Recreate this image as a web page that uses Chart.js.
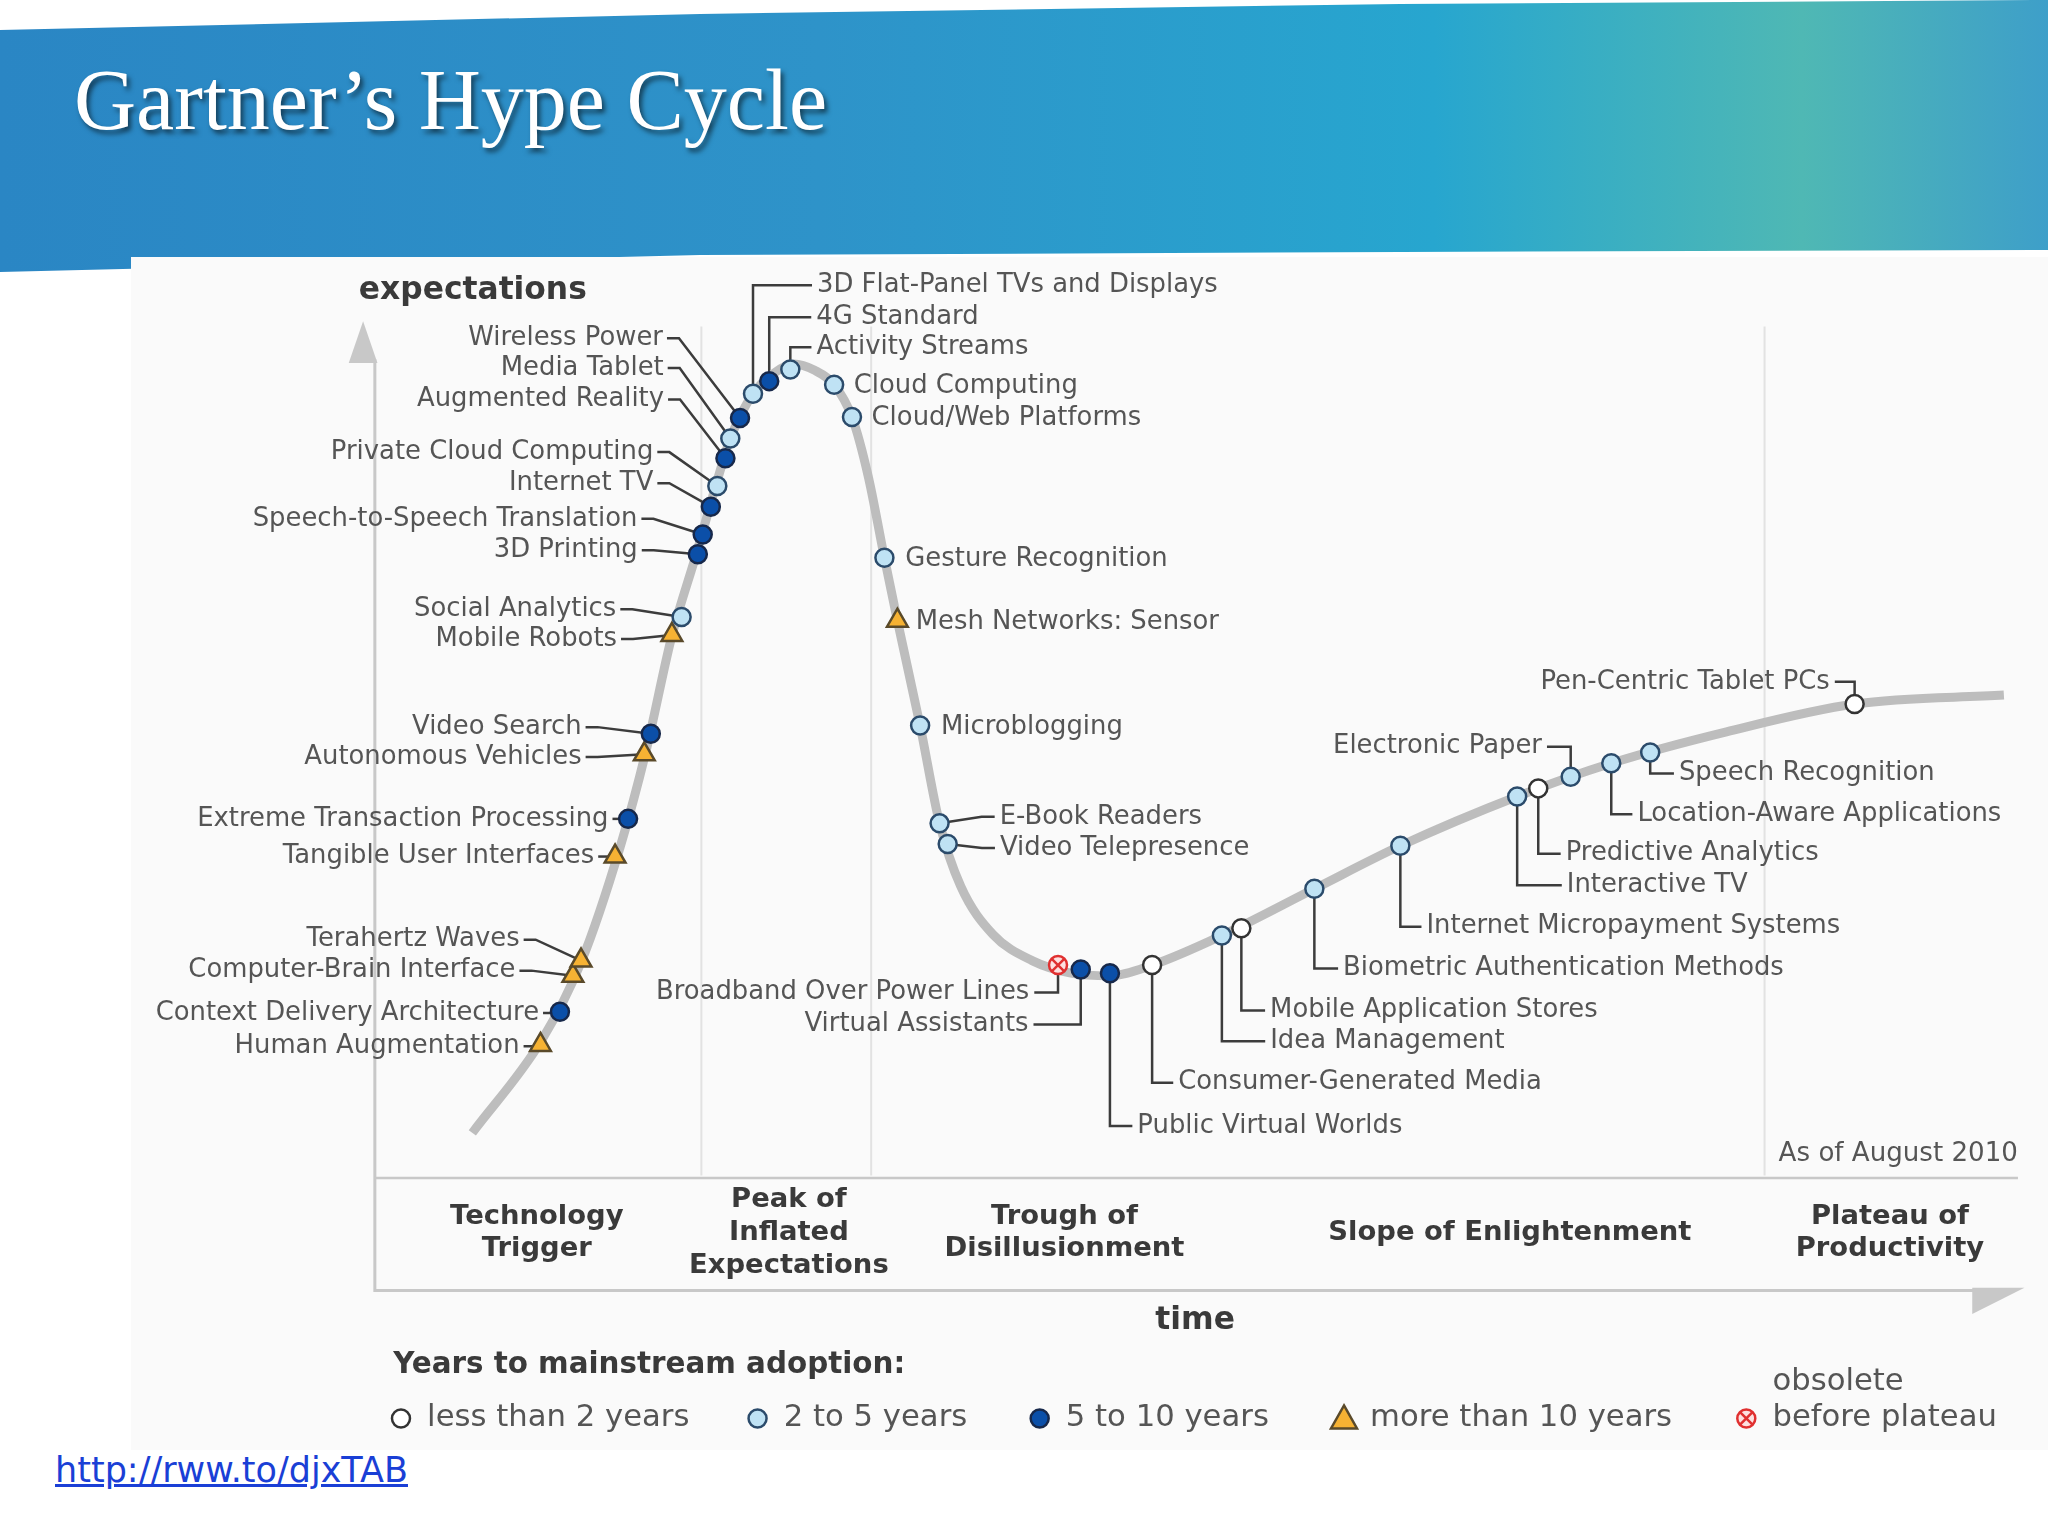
<!DOCTYPE html>
<html><head><meta charset="utf-8">
<script src="https://cdn.jsdelivr.net/npm/chart.js@4.4.1/dist/chart.umd.min.js"></script>
<style>
  html,body{margin:0;padding:0;background:#fff;width:2048px;height:1536px;overflow:hidden}
  .band{position:absolute;left:0;top:0;width:2048px;height:272px;
    background:linear-gradient(90deg,#2a86c4 0%,#2e93c9 40%,#27a6cf 70%,#4fb8b4 88%,#3e9fc9 100%);
    clip-path:polygon(0 30px,700px 14px,1400px 4px,2048px 0,2048px 250px,1400px 252px,700px 255px,0 272px)}
  .title{position:absolute;left:74px;top:50px;font-family:"Liberation Serif",serif;font-size:86px;color:#fff;
    text-shadow:3px 4px 5px rgba(0,0,0,.55)}
  .panel{position:absolute;left:131px;top:257px;width:1917px;height:1193px;background:#fafafa}
  .link{position:absolute;left:55px;top:1450px;font-family:"DejaVu Sans",sans-serif;font-size:35px;color:#1a3fd6;text-decoration:underline}
  canvas{position:absolute;left:0;top:0}
</style></head>
<body>
<div class="band"></div>
<div class="title">Gartner’s Hype Cycle</div>
<div class="panel"></div>
<a class="link">http://rww.to/djxTAB</a>
<canvas id="c" width="2048" height="1536" style="width:2048px;height:1536px"></canvas>
<script>
// ---------- datos (tiempo 0-100, expectativas 0-100) ----------
const curveTime = [5.6,9.9,12.3,14.7,16.3,17.9,19.4,20.6,21.5,22.9,24.2,25.4,26.7,27.9,29.0,30.0,31.0,31.8,33.2,34.4,35.7,37.7,40.1,42.5,44.9,47.5,51.8,57.5,62.8,70.0,75.8,82.9,90.8,100];
const curveExp  = [3.9,14.3,22.9,35.7,46.4,59.3,68.4,76.0,81.3,86.3,88.6,89.6,88.9,87.3,83.7,77.1,68.0,61.0,49.3,38.4,31.4,26.0,23.1,21.7,21.4,22.6,25.9,31.1,35.9,41.4,45.1,48.6,51.7,52.7];

const techNames = ['Human Augmentation','Context Delivery Architecture','Computer-Brain Interface','Terahertz Waves',
  'Tangible User Interfaces','Extreme Transaction Processing','Autonomous Vehicles','Video Search',
  'Mobile Robots','Social Analytics','3D Printing','Speech-to-Speech Translation','Internet TV',
  'Private Cloud Computing','Augmented Reality','Media Tablet','Wireless Power','3D Flat-Panel TVs and Displays',
  '4G Standard','Activity Streams','Cloud Computing','Cloud/Web Platforms','Gesture Recognition',
  'Mesh Networks: Sensor','Microblogging','E-Book Readers','Video Telepresence','Broadband Over Power Lines',
  'Virtual Assistants','Public Virtual Worlds','Consumer-Generated Media','Idea Management','Mobile Application Stores',
  'Biometric Authentication Methods','Internet Micropayment Systems','Interactive TV','Predictive Analytics',
  'Electronic Paper','Location-Aware Applications','Speech Recognition','Pen-Centric Tablet PCs'];
const techTime = [9.8,11.0,11.8,12.3,14.4,15.2,16.2,16.6,17.9,18.5,19.5,19.8,20.3,20.7,21.2,21.5,22.1,22.9,23.9,25.2,
  27.9,29.0,31.0,31.8,33.2,34.4,34.9,41.7,43.1,44.9,47.5,51.8,53.0,57.5,62.8,70.0,71.3,73.3,75.8,78.2,90.8];
const techExp  = [13.7,17.4,21.4,23.1,34.7,38.9,46.1,48.4,59.4,61.4,68.4,70.6,73.7,76.0,79.1,81.3,83.6,86.3,87.7,89.0,
  87.3,83.7,68.0,61.0,49.3,38.4,36.1,22.6,22.1,21.7,22.6,25.9,26.7,31.1,35.9,41.4,42.3,43.6,45.1,46.3,51.7];
// 0 <2 años, 1 2-5, 2 5-10, 3 >10, 4 obsoleto
const techYears = [3,2,3,3,3,2,3,2,3,1,2,2,2,1,2,1,2,1,2,1,1,1,1,3,1,1,1,4,2,2,0,1,0,1,1,1,0,1,1,1,0];

const phaseNames = [['Technology','Trigger'],['Peak of','Inflated','Expectations'],['Trough of','Disillusionment'],['Slope of Enlightenment'],['Plateau of','Productivity']];
const legendItems = ['less than 2 years','2 to 5 years','5 to 10 years','more than 10 years','obsolete\nbefore plateau'];

// ---------- maquetación de las etiquetas (desplazamiento en px de referencia, estilo) ----------
const calloutLayout = [
  [-16,1,'L'],[-16,1,'L'],[-44,-4,'L'],[-47,-16,'L'],[-16,0,'L'],[-15,0,'L'],[-48,2,'L'],[-53,-5,'L'],
  [-42,3,'L'],[-50,-6,'L'],[-46,-3,'L'],[-50,-12,'L'],[-44,-18,'L'],[-49,-26,'L'],[-47,-45,'L'],[-51,-54,'L'],
  [-59,-61,'L'],[49,-83,'E'],[36,-49,'E'],[20,-17,'E'],[15,1,'R'],[15,1,'R'],[16,1,'R'],[14,1,'R'],[16,1,'R'],
  [46,-5,'RL'],[40,3,'RL'],[-22,21,'EL'],[-40,42,'EL'],[21,117,'E'],[20,90,'E'],[37,81,'E'],[22,63,'E'],
  [22,61,'E'],[20,62,'E'],[38,68,'E'],[21,50,'E'],[-22,-23,'EL'],[20,39,'E'],[22,16,'E'],[-19,-17,'EL']];

const S = 2048/1568;
const P = v => v*S;
const FONT = '"DejaVu Sans", sans-serif';
const fills  = ['#ffffff','#bfe2f4','#0b4fa8','#f6b233','#fde0e0'];
const edges  = ['#333333','#2b4b6b','#17284a','#5a4a2a','#e03030'];

const pointSets = [0,1,2,3,4].map(k => {
  const data = [];
  techYears.forEach((y,i) => { if(y===k) data.push({x:techTime[i], y:techExp[i]}); });
  return {type:'scatter', data, pointStyle: k===3?'triangle':'circle', pointRadius: k===3?12:9,
    pointBackgroundColor:fills[k], pointBorderColor:edges[k], pointBorderWidth:2.5, order:1};
});

function drawPoint(ctx,k,x,y){
  ctx.save(); ctx.lineWidth=2.5; ctx.fillStyle=fills[k]; ctx.strokeStyle=edges[k];
  ctx.beginPath();
  if(k===3){ ctx.moveTo(x,y-13); ctx.lineTo(x+13,y+10); ctx.lineTo(x-13,y+10); ctx.closePath(); }
  else ctx.arc(x,y,9,0,Math.PI*2);
  ctx.fill(); ctx.stroke();
  if(k===4){ ctx.beginPath(); ctx.moveTo(x-6,y-6); ctx.lineTo(x+6,y+6); ctx.moveTo(x+6,y-6); ctx.lineTo(x-6,y+6); ctx.stroke(); }
  ctx.restore();
}

const frame = {
  id:'frame',
  beforeDatasetsDraw(chart){
    const c = chart.ctx; c.save();
    // divisores de fase
    c.strokeStyle='#e2e2e2'; c.lineWidth=2;
    [537,667,1351].forEach(x=>{ c.beginPath(); c.moveTo(P(x),P(250)); c.lineTo(P(x),P(900)); c.stroke(); });
    // ejes
    c.strokeStyle='#c8c8c8'; c.lineWidth=3;
    c.beginPath(); c.moveTo(P(287),P(275)); c.lineTo(P(287),P(988)); c.lineTo(P(1512),P(988)); c.stroke();
    c.fillStyle='#c8c8c8';
    c.beginPath(); c.moveTo(P(278),P(246)); c.lineTo(P(267),P(278)); c.lineTo(P(289),P(278)); c.fill();
    c.beginPath(); c.moveTo(P(1510),P(986)); c.lineTo(P(1550),P(986)); c.lineTo(P(1510),P(1006)); c.fill();
    c.lineWidth=2.5;
    c.beginPath(); c.moveTo(P(287),P(902)); c.lineTo(P(1545),P(902)); c.stroke();
    // etiquetas de fase
    c.fillStyle='#3a3a3a'; c.font='bold '+P(21)+'px '+FONT; c.textAlign='center'; c.textBaseline='middle';
    const cx=[411,604,815,1156,1447];
    phaseNames.forEach((lines,i)=>{ const h=P(25); const y0=P(944)-(lines.length-1)*h/2;
      lines.forEach((l,j)=>c.fillText(l,P(cx[i]),y0+j*h)); });
    c.font='bold '+P(24)+'px '+FONT;
    c.fillText('time',P(915),P(1011));
    c.fillText('expectations',P(362),P(223));
    c.font='bold '+P(22.5)+'px '+FONT; c.textAlign='left';
    c.fillText('Years to mainstream adoption:',P(301),P(1045));
    c.font=P(20)+'px '+FONT; c.fillStyle='#555'; c.textAlign='right';
    c.fillText('As of August 2010',P(1545),P(884));
    // leyenda
    const lx=[307,580,796,1029,1337];
    c.font=P(23.5)+'px '+FONT; c.textAlign='left';
    legendItems.forEach((t,k)=>{
      drawPoint(c,k,P(lx[k]),P(1086));
      const parts=t.split('\n');
      parts.forEach((p,j)=>c.fillText(p,P(lx[k]+20),P(1086-(parts.length-1-j)*28)));
    });
    // líneas guía
    const xs=chart.scales.x, ys=chart.scales.y;
    c.strokeStyle='#3c3c3c'; c.lineWidth=2.5;
    techNames.forEach((n,i)=>{
      const px=xs.getPixelForValue(techTime[i]), py=ys.getPixelForValue(techExp[i]);
      const [dx,dy,st]=calloutLayout[i]; const lx2=px+P(dx), ly=py+P(dy);
      c.beginPath();
      if(st==='L'){ c.moveTo(lx2+4,ly); c.lineTo(lx2+16,ly); c.lineTo(px,py); }
      else if(st==='RL'){ c.moveTo(px,py); c.lineTo(lx2-18,ly); c.lineTo(lx2-5,ly); }
      else if(st==='E'){ c.moveTo(px,py); c.lineTo(px,ly); c.lineTo(lx2-5,ly); }
      else if(st==='EL'){ c.moveTo(px,py); c.lineTo(px,ly); c.lineTo(lx2+5,ly); }
      else return;
      c.stroke();
    });
    c.restore();
  },
  afterDatasetsDraw(chart){
    const c=chart.ctx, xs=chart.scales.x, ys=chart.scales.y; c.save();
    c.fillStyle='#555'; c.font=P(19.8)+'px '+FONT; c.textBaseline='middle';
    techNames.forEach((n,i)=>{
      const px=xs.getPixelForValue(techTime[i]), py=ys.getPixelForValue(techExp[i]);
      const [dx,dy,st]=calloutLayout[i];
      c.textAlign=(st==='L'||st==='EL')?'right':'left';
      c.fillText(n,px+P(dx),py+P(dy));
      if(techYears[i]===4){ c.strokeStyle=edges[4]; c.lineWidth=2.5; c.beginPath();
        c.moveTo(px-6,py-6); c.lineTo(px+6,py+6); c.moveTo(px+6,py-6); c.lineTo(px-6,py+6); c.stroke(); }
    });
    c.restore();
  }
};

new Chart(document.getElementById('c'),{
  type:'scatter',
  data:{datasets:[
    {type:'line', data:curveTime.map((t,i)=>({x:t,y:curveExp[i]})), borderColor:'#bdbdbd', borderWidth:9,
     pointRadius:0, cubicInterpolationMode:'monotone', fill:false, order:10},
    ...pointSets
  ]},
  options:{
    responsive:false, animation:false, devicePixelRatio:1,
    layout:{padding:0},
    plugins:{legend:{display:false}, tooltip:{enabled:false}},
    scales:{
      x:{type:'linear', display:false, min:-285/12.6, max:(1568-285)/12.6},
      y:{type:'linear', display:false, min:(900-1176)/7, max:900/7}
    }
  },
  plugins:[frame]
});
</script>
</body></html>
